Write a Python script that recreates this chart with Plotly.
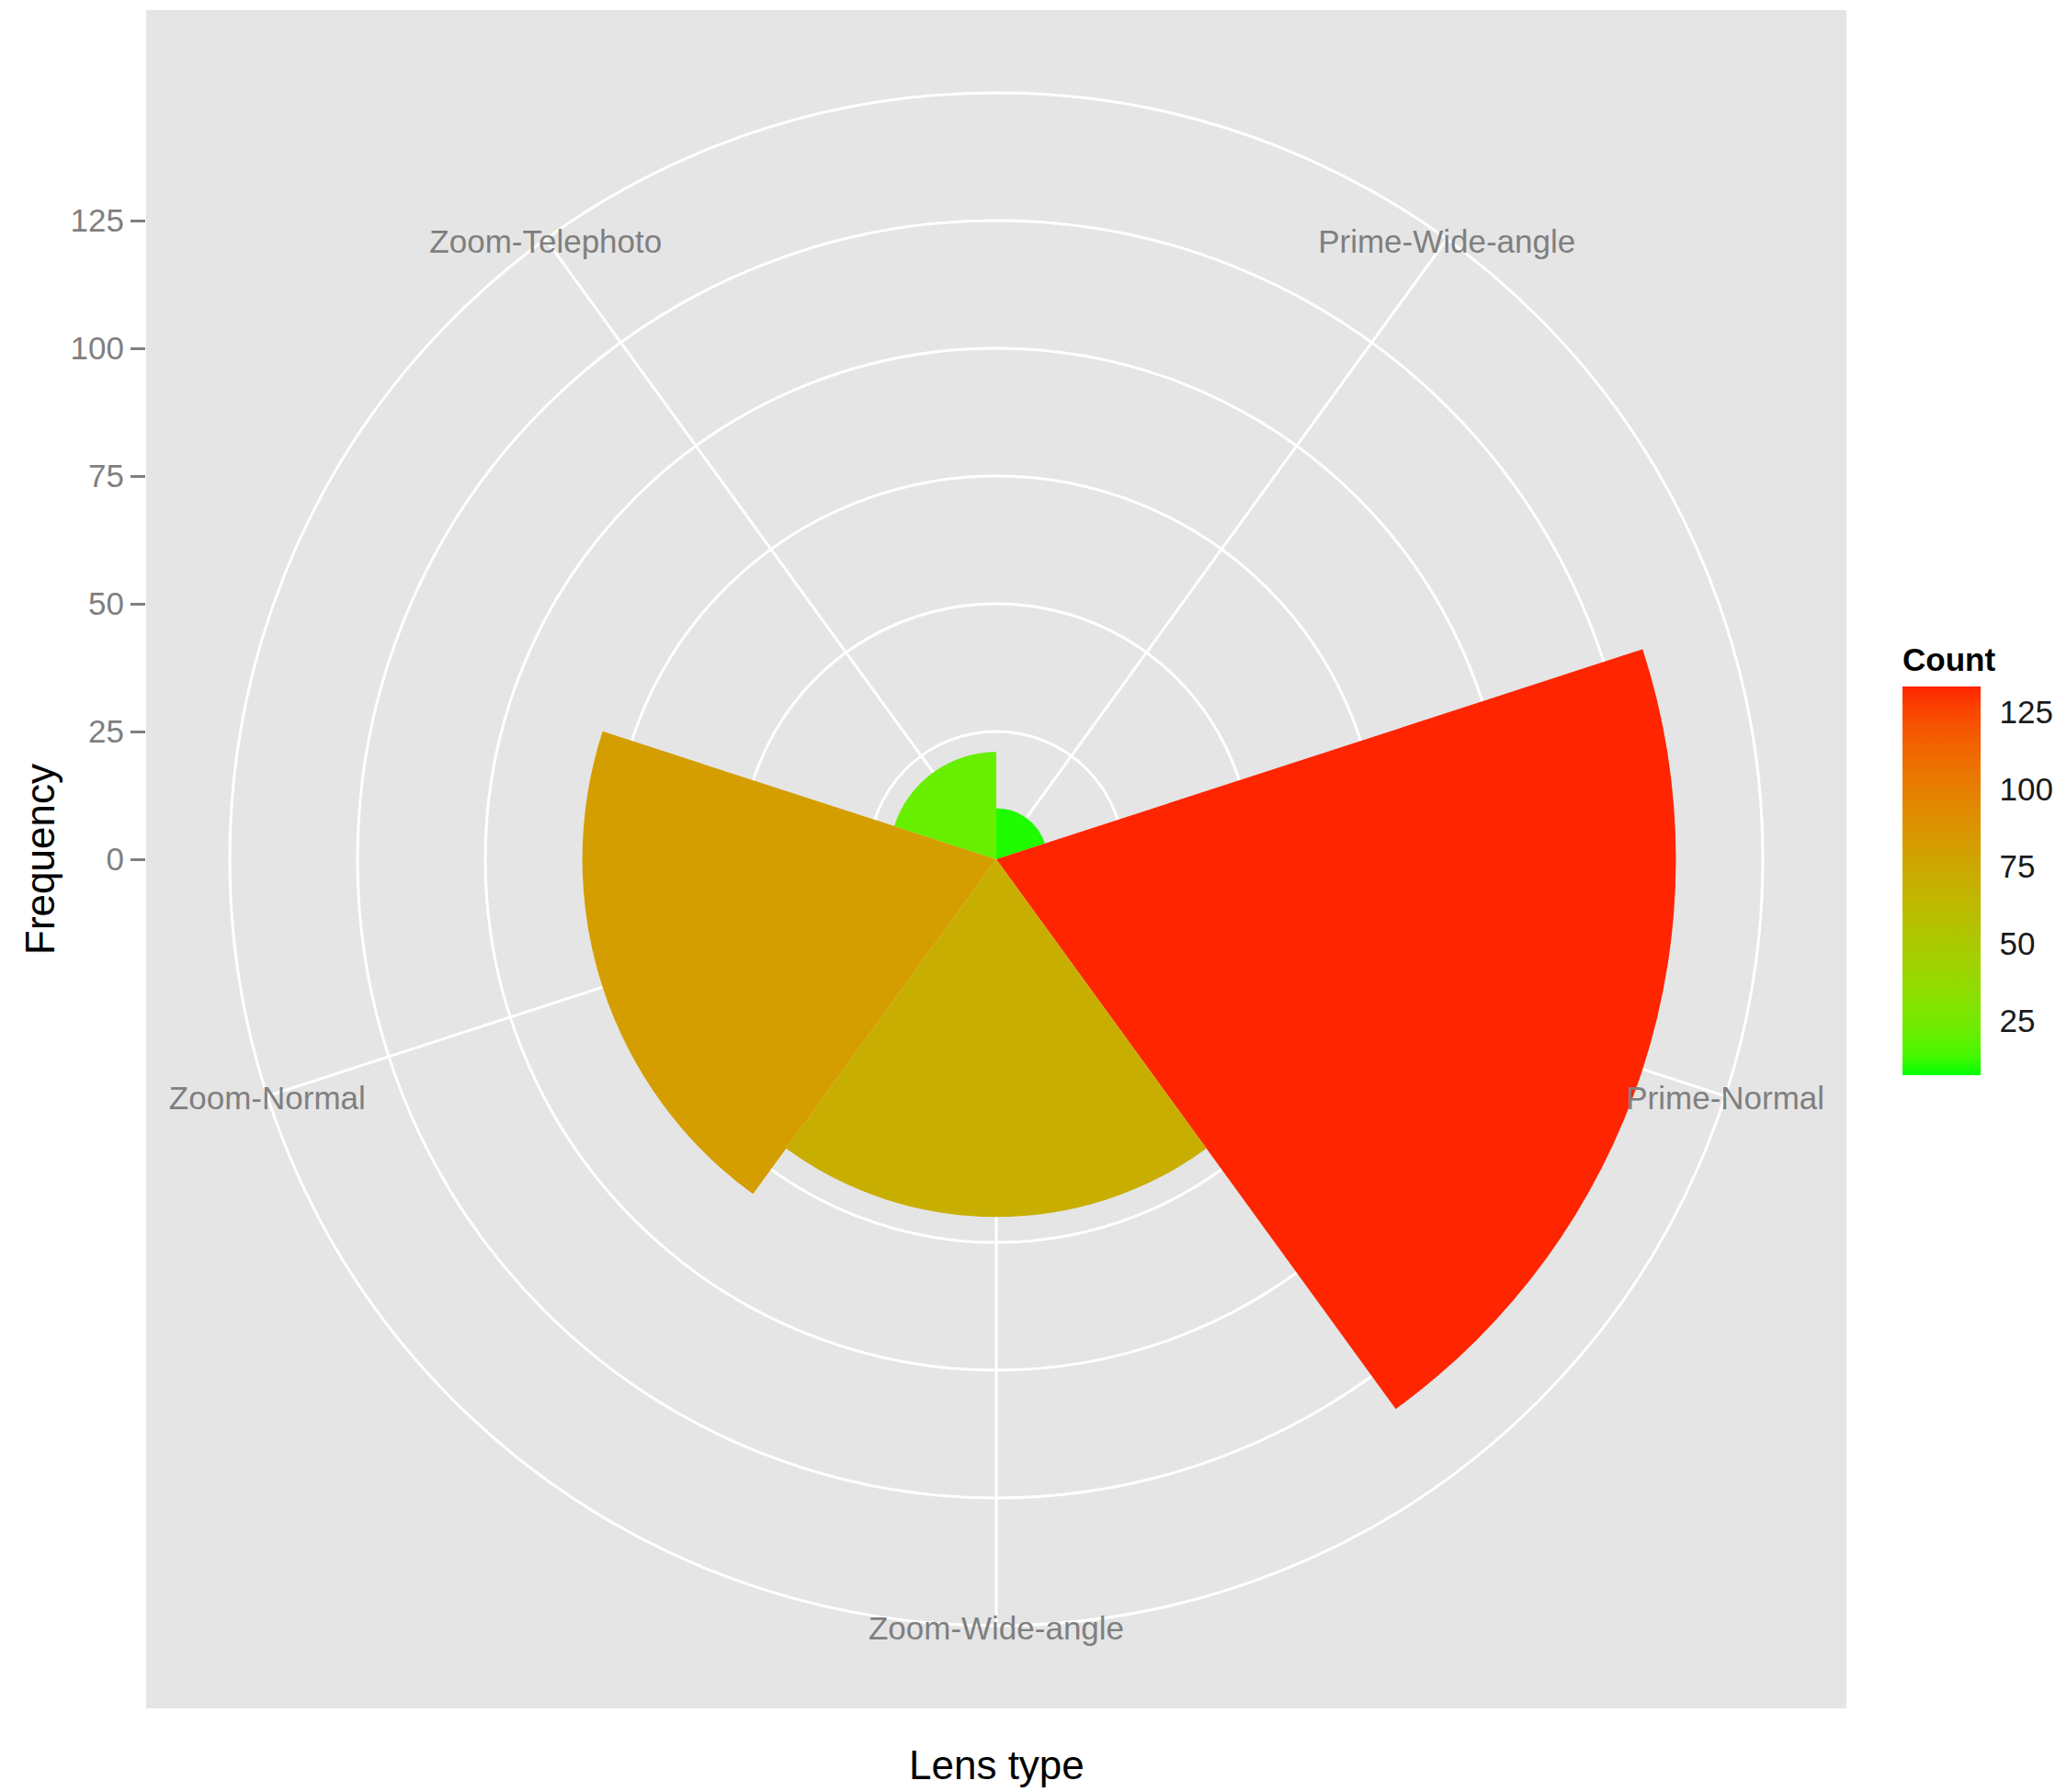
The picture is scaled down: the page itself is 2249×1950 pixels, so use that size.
import numpy as np
import plotly.graph_objects as go

# ---------------- data ----------------
lens_types = ["Prime-Wide-angle", "Prime-Normal", "Zoom-Wide-angle", "Zoom-Normal", "Zoom-Telephoto"]
frequency = [10, 133, 70, 81, 21]
y_ticks = [0, 25, 50, 75, 100, 125]
count_ticks = [25, 50, 75, 100, 125]
grid_rings = [25, 50, 75, 100, 125]
color_low = "#00FF00"
color_high = "#FF2400"

# ---------------- geometry (pixels of the target image) ----------------
PAGE_MARGIN = 8                       # default body margin of the html page
W, H = 2249 - PAGE_MARGIN, 1950 - PAGE_MARGIN
PANEL = dict(x0=159, x1=2009, y0=11, y1=1859)      # grey panel, top-left origin
CX, CY = 1084, 935                                 # polar centre
RADIAL_MAX = 150
OUTER_PX = 834                                     # radius of RADIAL_MAX
K = OUTER_PX / RADIAL_MAX                          # px per unit
LABEL_DY = 6                                       # baseline nudge of ring labels
CB = dict(x0=2070, x1=2155, y0=747, y1=1170)       # colour bar box
C_MIN, C_MAX = 7.3, 133.3

def px_x(x):
    return (x - PAGE_MARGIN) / W

def px_y(y):
    return 1 - (y - PAGE_MARGIN) / H

# ---------------- colour scale (Lab interpolation like ggplot) ----------------
def hex_to_rgb(h):
    h = h.lstrip("#")
    return np.array([int(h[i:i + 2], 16) for i in (0, 2, 4)]) / 255.0

def srgb_to_lin(c):
    return np.where(c <= 0.04045, c / 12.92, ((c + 0.055) / 1.055) ** 2.4)

def lin_to_srgb(c):
    return np.where(c <= 0.0031308, 12.92 * c, 1.055 * np.power(np.clip(c, 0, None), 1 / 2.4) - 0.055)

M = np.array([[0.4124, 0.3576, 0.1805], [0.2126, 0.7152, 0.0722], [0.0193, 0.1192, 0.9505]])
Minv = np.linalg.inv(M)
WHITE = np.array([0.95047, 1.0, 1.08883])

def f(t):
    d = 6 / 29
    return np.where(t > d ** 3, np.cbrt(t), t / (3 * d * d) + 4 / 29)

def finv(t):
    d = 6 / 29
    return np.where(t > d, t ** 3, 3 * d * d * (t - 4 / 29))

def rgb_to_lab(rgb):
    xyz = M @ srgb_to_lin(rgb) / WHITE
    fx, fy, fz = f(xyz)
    return np.array([116 * fy - 16, 500 * (fx - fy), 200 * (fy - fz)])

def lab_to_hex(lab):
    L, a, b = lab
    fy = (L + 16) / 116
    xyz = np.array([finv(fy + a / 500), finv(fy), finv(fy - b / 200)]) * WHITE
    rgb = np.clip(lin_to_srgb(Minv @ xyz), 0, 1)
    return "#%02X%02X%02X" % tuple(int(round(v * 255)) for v in rgb)

lab_lo, lab_hi = rgb_to_lab(hex_to_rgb(color_low)), rgb_to_lab(hex_to_rgb(color_high))
stops = np.linspace(0, 1, 21)
colorscale = [[float(t), lab_to_hex(lab_lo + (lab_hi - lab_lo) * t)] for t in stops]

GREY50 = "#7F7F7F"
FONT = "Liberation Sans, Arial, Helvetica, sans-serif"
GRID_W = 3

fig = go.Figure()

# invisible cartesian trace to carry the left "Frequency" axis
fig.add_trace(go.Scatter(x=[None], y=[None], mode="markers", showlegend=False,
                         hoverinfo="skip", xaxis="x", yaxis="y"))

fig.add_trace(go.Barpolar(
    r=frequency,
    theta=lens_types,
    subplot="polar",
    marker=dict(color=frequency, colorscale=colorscale, cmin=C_MIN, cmax=C_MAX,
                line=dict(width=0),
                colorbar=dict(
                    thickness=CB["x1"] - CB["x0"], thicknessmode="pixels",
                    len=CB["y1"] - CB["y0"], lenmode="pixels",
                    x=px_x(CB["x0"]), xanchor="left", xpad=0,
                    y=px_y((CB["y0"] + CB["y1"]) / 2), yanchor="middle", ypad=0,
                    outlinewidth=0, borderwidth=0,
                    tickvals=count_ticks, ticks="outside", ticklen=14,
                    tickcolor="rgba(0,0,0,0)", tickwidth=1,
                    tickfont=dict(size=35, color="#1A1A1A", family=FONT),
                )),
    showlegend=False,
    hovertemplate="%{theta}: %{r}<extra></extra>",
))

# category labels sitting on the outer ring (own overlay subplot, nudged down)
fig.add_trace(go.Scatterpolar(
    r=[RADIAL_MAX] * len(lens_types),
    theta=lens_types,
    subplot="polar2",
    mode="text",
    text=lens_types,
    textposition="middle center",
    textfont=dict(size=35, color=GREY50, family=FONT),
    cliponaxis=False,
    showlegend=False,
    hoverinfo="skip",
))

# white tick marks on both edges of the colour bar (as in ggplot's colourbar)
shapes = []
tick_len = (CB["x1"] - CB["x0"]) / 5
for v in count_ticks:
    yy = CB["y1"] - (v - C_MIN) / (C_MAX - C_MIN) * (CB["y1"] - CB["y0"])
    for xa, xb in ((CB["x0"], CB["x0"] + tick_len), (CB["x1"] - tick_len, CB["x1"])):
        shapes.append(dict(type="line", xref="paper", yref="paper",
                           x0=px_x(xa), x1=px_x(xb), y0=px_y(yy), y1=px_y(yy),
                           line=dict(color="white", width=2), layer="above"))

angular_common = dict(type="category", categoryorder="array", categoryarray=lens_types,
                      rotation=54, direction="clockwise", showticklabels=False, ticks="")

fig.update_layout(
    width=W, height=H,
    margin=dict(l=0, r=0, t=0, b=0),
    paper_bgcolor="white",
    plot_bgcolor="#E5E5E5",
    font=dict(family=FONT),
    shapes=shapes,
    xaxis=dict(domain=[px_x(PANEL["x0"]), px_x(PANEL["x1"])], range=[0, 1],
               visible=False, fixedrange=True),
    yaxis=dict(domain=[px_y(PANEL["y1"]), px_y(PANEL["y0"])],
               range=[-(PANEL["y1"] - CY) / K, (CY - PANEL["y0"]) / K],
               tickvals=y_ticks, ticks="outside", ticklen=16, tickwidth=2.5,
               tickcolor=GREY50, tickfont=dict(size=35, color=GREY50, family=FONT),
               showgrid=False, zeroline=False, showline=False, fixedrange=True),
    polar=dict(
        domain=dict(x=[px_x(CX - OUTER_PX), px_x(CX + OUTER_PX)],
                    y=[px_y(CY + OUTER_PX), px_y(CY - OUTER_PX)]),
        bgcolor="#E5E5E5",
        bargap=0,
        radialaxis=dict(range=[0, RADIAL_MAX], tickvals=grid_rings,
                        showticklabels=False, ticks="", showline=False,
                        gridcolor="white", gridwidth=GRID_W, layer="below traces"),
        angularaxis=dict(**angular_common,
                         showline=True, linecolor="white", linewidth=GRID_W,
                         gridcolor="white", gridwidth=GRID_W, layer="below traces"),
    ),
    polar2=dict(
        domain=dict(x=[px_x(CX - OUTER_PX), px_x(CX + OUTER_PX)],
                    y=[px_y(CY + OUTER_PX + LABEL_DY), px_y(CY - OUTER_PX + LABEL_DY)]),
        bgcolor="rgba(0,0,0,0)",
        radialaxis=dict(range=[0, RADIAL_MAX], visible=False, showgrid=False),
        angularaxis=dict(**angular_common, showline=False, showgrid=False),
    ),
    annotations=[
        dict(text="Frequency", x=px_x(43), y=px_y(CY), xref="paper", yref="paper",
             textangle=-90, showarrow=False, xanchor="center", yanchor="middle",
             font=dict(size=44, color="black", family=FONT)),
        dict(text="Lens type", x=px_x(CX), y=px_y(1920), xref="paper", yref="paper",
             showarrow=False, xanchor="center", yanchor="middle",
             font=dict(size=44, color="black", family=FONT)),
        dict(text="<b>Count</b>", x=px_x(2068), y=px_y(717), xref="paper", yref="paper",
             showarrow=False, xanchor="left", yanchor="middle",
             font=dict(size=35, color="black", family=FONT)),
    ],
)

fig.write_html("out.html")
